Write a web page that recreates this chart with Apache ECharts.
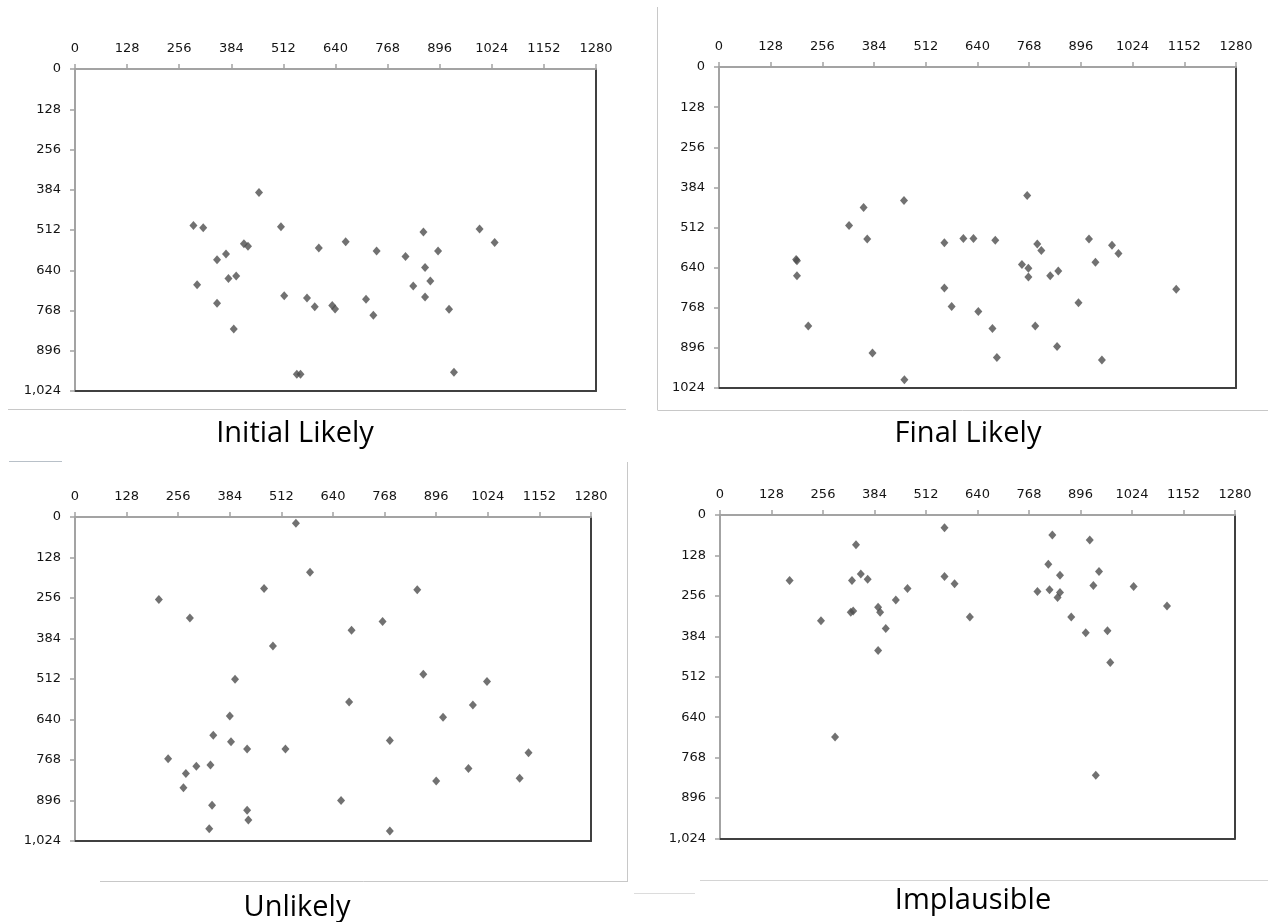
<!DOCTYPE html>
<html>
<head>
<meta charset="utf-8">
<script src="https://cdn.jsdelivr.net/npm/echarts@6/dist/echarts.min.js"></script>
<style>
html,body{margin:0;padding:0;background:#fff;}
#chart{width:1268px;height:922px;}
</style>
</head>
<body>
<div id="chart"></div>
<script>
// ---- data (x, y screen coordinates) ----
const panelTitles = ['Initial Likely', 'Final Likely', 'Unlikely', 'Implausible'];
const xMax = 1280, yMax = 1024, tickStep = 128;

const initialLikely = [
  [452,393],[291,498],[315,505],[506,502],[856,518],[994,509],[1031,552],[415,556],[425,564],
  [665,549],[599,569],[371,588],[349,607],[741,579],[892,579],[812,596],[860,631],[396,658],
  [377,666],[873,674],[300,686],[831,690],[514,721],[860,725],[570,728],[715,732],[349,745],
  [589,756],[632,752],[639,763],[919,764],[733,783],[390,827],[545,971],[554,971],[931,964]
];
const finalLikely = [
  [763,410],[458,426],[358,448],[322,506],[367,549],[558,561],[605,547],[630,547],[684,553],
  [788,565],[798,585],[916,549],[973,569],[989,595],[191,614],[193,618],[932,623],[750,630],
  [766,642],[840,651],[766,670],[820,666],[193,666],[558,705],[1132,709],[890,752],[576,764],
  [642,780],[221,826],[677,834],[783,826],[837,892],[380,912],[688,927],[948,935],[459,998]
];
const unlikely = [
  [548,20],[583,175],[469,226],[849,230],[208,261],[285,319],[763,330],[686,358],[491,408],
  [864,497],[397,513],[1022,520],[680,585],[987,594],[384,629],[913,633],[343,690],[781,706],
  [387,710],[427,733],[522,733],[1125,745],[231,764],[336,784],[301,788],[976,795],[275,811],
  [1103,826],[896,834],[269,856],[660,896],[340,911],[427,927],[430,958],[333,985],[781,992]
];
const implausible = [
  [558,40],[826,63],[919,79],[338,94],[816,156],[942,179],[350,187],[558,195],[845,191],
  [367,203],[328,207],[173,207],[583,218],[928,223],[1028,226],[466,233],[789,242],[819,237],
  [845,245],[839,261],[437,269],[1111,288],[393,292],[331,304],[325,308],[398,308],[621,323],
  [873,323],[251,335],[412,359],[963,366],[909,373],[393,429],[970,467],[286,703],[934,824]
];
const panelData = [initialLikely, finalLikely, unlikely, implausible];
const yLabelComma = [true, false, true, true];

// ---- layout ----
const grids = [
  {left: 75,  top: 69,  width: 521, height: 322},
  {left: 719, top: 67,  width: 517, height: 321},
  {left: 75,  top: 517, width: 516, height: 324},
  {left: 720, top: 515, width: 515, height: 323.5}
];
const titlePos = [
  {x: 295, top: 419}, {x: 968, top: 419}, {x: 297, top: 893}, {x: 973, top: 886}
];

const axisGray = '#a3a3a3';
const borderDark = '#404040';
const labelStyle = {color: '#141414', fontFamily: 'DejaVu Sans', fontSize: 13};

const xAxes = [], yAxes = [], series = [], titles = [];
grids.forEach((g, i) => {
  xAxes.push({
    gridIndex: i, type: 'value', position: 'top', min: 0, max: xMax, interval: tickStep,
    axisLine: {show: true, onZero: false, lineStyle: {color: axisGray, width: 2}},
    axisTick: {show: true, length: 5, lineStyle: {color: axisGray, width: 1.5}},
    axisLabel: Object.assign({margin: 14, formatter: v => String(v)}, labelStyle),
    splitLine: {show: false}
  });
  xAxes.push({
    gridIndex: i, type: 'value', position: 'bottom', min: 0, max: xMax, interval: tickStep,
    axisLine: {show: true, onZero: false, lineStyle: {color: borderDark, width: 2}},
    axisTick: {show: false}, axisLabel: {show: false}, splitLine: {show: false}
  });
  yAxes.push({
    gridIndex: i, type: 'value', position: 'left', inverse: true, min: 0, max: yMax, interval: tickStep,
    axisLine: {show: true, onZero: false, lineStyle: {color: axisGray, width: 2}},
    axisTick: {show: true, length: 5, lineStyle: {color: axisGray, width: 1.5}},
    axisLabel: Object.assign({margin: 14, formatter: v => yLabelComma[i] ? v.toLocaleString('en-US') : String(v)}, labelStyle),
    splitLine: {show: false}
  });
  yAxes.push({
    gridIndex: i, type: 'value', position: 'right', inverse: true, min: 0, max: yMax, interval: tickStep,
    axisLine: {show: true, onZero: false, lineStyle: {color: borderDark, width: 2}},
    axisTick: {show: false}, axisLabel: {show: false}, splitLine: {show: false}
  });
  series.push({
    type: 'scatter', xAxisIndex: i * 2, yAxisIndex: i * 2,
    data: panelData[i], symbol: 'diamond', symbolSize: [8, 9],
    itemStyle: {color: '#4d4d4d'}, silent: true, z: 5
  });
  titles.push({
    text: panelTitles[i], left: titlePos[i].x, top: titlePos[i].top, textAlign: 'center', padding: 0,
    textStyle: {fontFamily: 'Open Sans', fontSize: 29, fontWeight: 'normal', color: '#000'}
  });
});

const sepLine = (x1, y1, x2, y2, c) => ({type: 'line', shape: {x1, y1, x2, y2}, style: {stroke: c || '#c8c8c8', lineWidth: 1}, silent: true});

const option = {
  backgroundColor: '#fff',
  animation: false,
  title: titles,
  grid: grids.map(g => Object.assign({show: false}, g)),
  xAxis: xAxes,
  yAxis: yAxes,
  series: series,
  graphic: [
    sepLine(8, 409.5, 626, 409.5),
    sepLine(657.5, 7, 657.5, 410),
    sepLine(657.5, 410.5, 1268, 410.5),
    sepLine(9, 461.5, 62, 461.5, '#b8c0c8'),
    sepLine(627.5, 462, 627.5, 882),
    sepLine(100, 881.5, 627.5, 881.5),
    sepLine(700, 880.5, 1268, 880.5, '#d4d4d4'),
    sepLine(634, 893.5, 695, 893.5, '#dcdcdc')
  ]
};

const chart = echarts.init(document.getElementById('chart'), null, {renderer: 'canvas'});
chart.setOption(option);
</script>
</body>
</html>
